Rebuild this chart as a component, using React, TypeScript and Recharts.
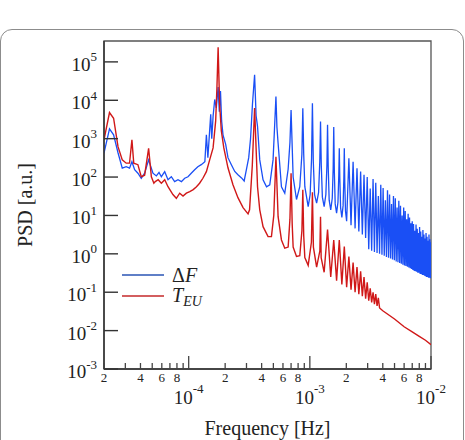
import { LineChart, Line, XAxis, YAxis, ReferenceArea } from 'recharts';

// ΔF spectrum (frequency in Hz, PSD in a.u.)
const deltaFFreq = [
  2.0e-5, 2.22e-5, 2.4e-5, 2.61e-5, 2.83e-5, 3.05e-5, 3.25e-5, 3.4e-5, 3.58e-5, 3.81e-5,
  4.06e-5, 4.33e-5, 4.67e-5, 5.07e-5, 5.41e-5, 5.69e-5, 5.95e-5, 6.34e-5, 6.75e-5, 7.19e-5,
  7.66e-5, 8.16e-5, 8.71e-5, 9.27e-5, 9.87e-5, 1.05e-4, 1.12e-4, 1.19e-4, 1.27e-4, 1.36e-4,
  1.4e-4, 1.44e-4, 1.52e-4, 1.55e-4, 1.59e-4, 1.64e-4, 1.69e-4, 1.75e-4, 1.79e-4, 1.83e-4,
  1.87e-4, 1.92e-4, 2.02e-4, 2.11e-4, 2.25e-4, 2.4e-4, 2.55e-4, 2.73e-4, 2.87e-4, 3.0e-4,
  3.13e-4, 3.24e-4, 3.36e-4, 3.5e-4, 3.6e-4, 3.7e-4, 3.86e-4, 4.11e-4, 4.39e-4, 4.67e-4,
  4.97e-4, 5.1e-4, 5.25e-4, 5.35e-4, 5.47e-4, 5.83e-4, 6.21e-4, 6.62e-4, 6.85e-4, 7.0e-4,
  7.15e-4, 7.28e-4, 7.76e-4, 8.26e-4, 8.6e-4, 8.75e-4, 8.9e-4, 9.09e-4, 9.69e-4,
  1.006e-3, 1.033e-3, 1.05e-3, 1.068e-3, 1.094e-3, 1.1375e-3,
  1.181e-3, 1.208e-3, 1.225e-3, 1.243e-3, 1.269e-3, 1.3125e-3,
  1.356e-3, 1.383e-3, 1.4e-3, 1.418e-3, 1.444e-3, 1.4875e-3,
  1.531e-3, 1.558e-3, 1.575e-3, 1.593e-3, 1.619e-3, 1.6625e-3,
  1.706e-3, 1.733e-3, 1.75e-3, 1.768e-3, 1.794e-3, 1.8375e-3,
  1.881e-3, 1.908e-3, 1.925e-3, 1.943e-3, 1.969e-3, 2.0125e-3,
  2.1e-3, 2.1875e-3, 2.275e-3, 2.3625e-3, 2.45e-3,
  2.5375e-3, 2.625e-3, 2.7125e-3, 2.8e-3, 2.8875e-3, 2.975e-3, 3.0625e-3, 3.15e-3, 3.2375e-3, 3.325e-3,
  3.4125e-3, 3.5e-3, 3.5875e-3, 3.675e-3, 3.7625e-3, 3.85e-3, 3.9375e-3, 4.025e-3, 4.1125e-3, 4.2e-3,
  4.2875e-3, 4.375e-3, 4.4625e-3, 4.55e-3, 4.6375e-3, 4.725e-3, 4.8125e-3, 4.9e-3, 4.9875e-3, 5.075e-3,
  5.1625e-3, 5.25e-3, 5.3375e-3, 5.425e-3, 5.5125e-3, 5.6e-3, 5.6875e-3, 5.775e-3, 5.8625e-3, 5.95e-3,
  6.0375e-3, 6.125e-3, 6.2125e-3, 6.3e-3, 6.3875e-3, 6.475e-3, 6.5625e-3, 6.65e-3, 6.7375e-3, 6.825e-3,
  6.9125e-3, 7.0e-3, 7.0875e-3, 7.175e-3, 7.2625e-3, 7.35e-3, 7.4375e-3, 7.525e-3, 7.6125e-3, 7.7e-3,
  7.7875e-3, 7.875e-3, 7.9625e-3, 8.05e-3, 8.1375e-3, 8.225e-3, 8.3125e-3, 8.4e-3, 8.4875e-3, 8.575e-3,
  8.6625e-3, 8.75e-3, 8.8375e-3, 8.925e-3, 9.0125e-3, 9.1e-3, 9.1875e-3, 9.275e-3, 9.3625e-3, 9.45e-3,
  9.5375e-3, 9.625e-3, 9.7125e-3, 9.8e-3, 9.8875e-3, 9.975e-3, 1.0e-2,
];
const deltaFPsd = [
  420, 1800, 1260, 430, 170, 186, 170, 250, 155, 126,
  93, 126, 280, 126, 107, 132, 102, 138, 85, 102,
  76, 85, 76, 93, 102, 126, 155, 186, 210, 250,
  1260, 320, 4300, 1000, 3800, 10500, 6300, 22000, 5000, 17400,
  2900, 1260, 710, 320, 210, 140, 115, 95, 79, 160,
  320, 1000, 7900, 46000, 4000, 2100, 280, 85, 56, 63,
  280, 1600, 12600, 2000, 760, 56, 38, 160, 790, 5600,
  630, 100, 26, 56, 400, 6200, 400, 56, 17,
  35, 300, 8300, 250, 35, 21,
  40, 250, 2800, 200, 30, 17,
  35, 200, 2300, 180, 25, 14,
  28, 170, 2000, 140, 20, 11.5,
  22, 110, 560, 90, 16, 8.9,
  18, 90, 560, 70, 13, 7.1,
  310, 5.6, 250, 4.6, 170,
  3.8, 140, 3.2, 115, 2.6, 100, 1.32, 50, 1.2, 89,
  1.12, 71, 1.05, 32, 1.0, 63, 0.95, 52, 0.89, 25,
  0.83, 45, 0.79, 35, 0.76, 20, 0.71, 32, 0.68, 28,
  0.63, 16, 0.6, 24, 0.58, 18, 0.55, 10, 0.52, 16,
  0.5, 13, 0.48, 7.9, 0.46, 11, 0.44, 8.9, 0.42, 6.3,
  0.4, 7.1, 0.38, 6.0, 0.36, 4.0, 0.35, 5.8, 0.34, 4.5,
  0.32, 3.5, 0.32, 5.0, 0.3, 3.8, 0.3, 2.8, 0.28, 4.2,
  0.28, 3.2, 0.27, 2.5, 0.26, 3.5, 0.25, 2.8, 0.25, 2.2,
  0.24, 3.2, 0.24, 2.4, 0.23, 2.0, 0.3,
];

// T_EU spectrum
const teuFreq = [
  2.0e-5, 2.22e-5, 2.4e-5, 2.61e-5, 2.83e-5, 3.05e-5, 3.25e-5, 3.4e-5, 3.52e-5, 3.81e-5,
  4.06e-5, 4.33e-5, 4.67e-5, 4.92e-5, 5.16e-5, 5.3e-5, 5.6e-5, 5.95e-5, 6.34e-5, 6.75e-5,
  7.41e-5, 7.91e-5, 8.43e-5, 8.98e-5, 9.57e-5, 1.02e-4, 1.09e-4, 1.16e-4, 1.23e-4, 1.31e-4,
  1.4e-4, 1.49e-4, 1.59e-4, 1.67e-4, 1.71e-4, 1.75e-4, 1.8e-4, 1.86e-4, 1.95e-4, 2.11e-4,
  2.32e-4, 2.55e-4, 2.81e-4, 3.09e-4, 3.18e-4, 3.35e-4, 3.5e-4, 3.7e-4, 3.86e-4, 4.11e-4,
  4.52e-4, 4.82e-4, 5.04e-4, 5.25e-4, 5.47e-4, 5.83e-4, 6.21e-4, 6.62e-4, 6.85e-4, 7.0e-4,
  7.15e-4, 7.28e-4, 7.76e-4, 8.26e-4, 8.6e-4, 8.75e-4, 8.9e-4, 9.09e-4, 9.69e-4, 1.03e-3,
  1.05e-3, 1.07e-3, 1.1375e-3, 1.21e-3, 1.225e-3, 1.24e-3, 1.3125e-3, 1.4e-3, 1.4875e-3, 1.575e-3,
  1.6625e-3, 1.75e-3, 1.8375e-3, 1.925e-3, 2.0125e-3, 2.1e-3, 2.1875e-3, 2.275e-3, 2.3625e-3, 2.45e-3,
  2.5375e-3, 2.625e-3, 2.7125e-3, 2.8e-3, 2.8875e-3, 2.975e-3, 3.0625e-3, 3.15e-3, 3.2375e-3, 3.325e-3,
  3.4125e-3, 3.5e-3, 3.5875e-3, 3.675e-3, 3.7625e-3, 4.0e-3, 5.0e-3, 6.0e-3, 7.0e-3, 8.0e-3,
  9.0e-3, 1.0e-2,
];
const teuPsd = [
  930, 4800, 3400, 620, 280, 230, 230, 930, 230, 210,
  102, 112, 560, 102, 69, 76, 85, 69, 85, 56,
  35, 28, 38, 32, 38, 42, 47, 56, 69, 93,
  138, 280, 575, 2900, 21000, 240000, 7800, 1600, 575, 174,
  63, 29, 16, 11, 14, 200, 6300, 56, 14, 5.1,
  2.8, 2.8, 10, 340, 9.3, 2.3, 1.4, 1.5, 8, 126,
  6, 1.5, 0.85, 0.89, 4, 47, 3, 0.8, 0.5, 2,
  40, 1.5, 0.45, 1.2, 9.3, 0.8, 0.33, 4.3, 0.25, 2.3,
  0.2, 2.3, 0.16, 1.55, 0.135, 0.85, 0.117, 0.59, 0.1, 0.45,
  0.089, 0.35, 0.079, 0.25, 0.068, 0.18, 0.06, 0.126, 0.054, 0.1,
  0.049, 0.089, 0.044, 0.071, 0.039, 0.033, 0.02, 0.0126, 0.0093, 0.0071,
  0.0056, 0.0043,
];

const xTicks = [
  2e-5, 3e-5, 4e-5, 5e-5, 6e-5, 7e-5, 8e-5, 9e-5, 1e-4,
  2e-4, 3e-4, 4e-4, 5e-4, 6e-4, 7e-4, 8e-4, 9e-4, 1e-3,
  2e-3, 3e-3, 4e-3, 5e-3, 6e-3, 7e-3, 8e-3, 9e-3, 1e-2,
];
const xTickLabels = [
  '2', '', '4', '', '6', '', '8', '', '10^-4',
  '2', '', '4', '', '6', '', '8', '', '10^-3',
  '2', '', '4', '', '6', '', '8', '', '10^-2',
];
const yTicks = [1e-3, 1e-2, 1e-1, 1e0, 1e1, 1e2, 1e3, 1e4, 1e5];
const yTickExponents = ['-3', '-2', '-1', '0', '1', '2', '3', '4', '5'];

const FONT = '"Liberation Serif", "Times New Roman", serif';
const INK = '#222';

const deltaFData = deltaFFreq.map((f, i) => ({ f, psd: deltaFPsd[i] }));
const teuData = teuFreq.map((f, i) => ({ f, psd: teuPsd[i] }));

function FreqTick({ x, y, index }: any) {
  const label = xTickLabels[index] ?? '';
  const major = label.startsWith('10^');
  return (
    <g>
      <line x1={x} y1={y} x2={x} y2={y - (major ? 13 : 6)} stroke="#444" strokeWidth={1.3} />
      {major ? (
        <text x={x} y={y + 35} textAnchor="middle" fontFamily={FONT} fontSize={19} fill={INK}>
          10
          <tspan dy={-11} fontSize={13}>{label.slice(3)}</tspan>
        </text>
      ) : label ? (
        <text x={x} y={y + 13} textAnchor="middle" fontFamily={FONT} fontSize={13} fill={INK}>
          {label}
        </text>
      ) : null}
    </g>
  );
}

function PsdTick({ x, y, index }: any) {
  return (
    <g>
      <line x1={x} y1={y} x2={x + 14} y2={y} stroke="#333" strokeWidth={1.4} />
      <text x={x - 7} y={y + 9} textAnchor="end" fontFamily={FONT} fontSize={19} fill={INK}>
        10
        <tspan dy={-9.5} fontSize={13}>{yTickExponents[index]}</tspan>
      </text>
    </g>
  );
}

export default function App() {
  return (
    <div style={{ position: 'absolute', left: 0, top: 0, width: 465, height: 440, overflow: 'hidden', background: '#fff' }}>
      <div
        style={{
          position: 'absolute',
          left: 0,
          top: 29,
          width: 462,
          height: 430,
          border: '1px solid #8c8c8c',
          borderRadius: 12,
        }}
      />
      <LineChart width={465} height={440} margin={{ top: 41, right: 34, bottom: 0, left: 0 }}>
        <XAxis
          dataKey="f"
          type="number"
          scale="log"
          domain={[2e-5, 1e-2]}
          allowDataOverflow
          ticks={xTicks}
          interval={0}
          height={71}
          tickSize={0}
          tickMargin={0}
          tickLine={false}
          tick={<FreqTick />}
          axisLine={{ stroke: '#333', strokeWidth: 1.5 }}
          label={({ viewBox }: any) => (
            <text
              x={viewBox.x + viewBox.width / 2}
              y={435}
              textAnchor="middle"
              fontFamily={FONT}
              fontSize={20}
              fill={INK}
            >
              Frequency [Hz]
            </text>
          )}
        />
        <YAxis
          dataKey="psd"
          type="number"
          scale="log"
          domain={[1e-3, 3.5e5]}
          allowDataOverflow
          ticks={yTicks}
          interval={0}
          width={104}
          tickSize={0}
          tickMargin={0}
          tickLine={false}
          tick={<PsdTick />}
          axisLine={{ stroke: '#333', strokeWidth: 1.5 }}
          label={({ viewBox }: any) => {
            const cx = viewBox.x + 25;
            const cy = viewBox.y + viewBox.height / 2;
            return (
              <text
                x={cx}
                y={cy}
                transform={`rotate(-90 ${cx} ${cy})`}
                textAnchor="middle"
                dominantBaseline="central"
                fontFamily={FONT}
                fontSize={20}
                fill={INK}
              >
                PSD [a.u.]
              </text>
            );
          }}
        />
        <ReferenceArea x1={2e-5} x2={1e-2} y1={1e-3} y2={3.5e5} fill="none" stroke="#555" strokeWidth={1.3} />
        <Line
          data={deltaFData}
          dataKey="psd"
          name="ΔF"
          type="linear"
          stroke="#1a4ff5"
          strokeWidth={1.3}
          dot={false}
          isAnimationActive={false}
        />
        <Line
          data={teuData}
          dataKey="psd"
          name="T_EU"
          type="linear"
          stroke="#d01818"
          strokeWidth={1.4}
          dot={false}
          isAnimationActive={false}
        />
      </LineChart>
      <svg width={465} height={440} style={{ position: 'absolute', left: 0, top: 0, pointerEvents: 'none' }}>
        <line x1={122} y1={275} x2={164} y2={275} stroke="#2a55b5" strokeWidth={1.5} />
        <text x={172} y={282} fontFamily={FONT} fontSize={20} fill={INK}>
          Δ<tspan fontStyle="italic">F</tspan>
        </text>
        <line x1={122} y1={296} x2={164} y2={296} stroke="#c4282a" strokeWidth={1.5} />
        <text x={172} y={302} fontFamily={FONT} fontSize={20} fontStyle="italic" fill={INK}>
          T<tspan dy={4} fontSize={14}>EU</tspan>
        </text>
      </svg>
    </div>
  );
}
